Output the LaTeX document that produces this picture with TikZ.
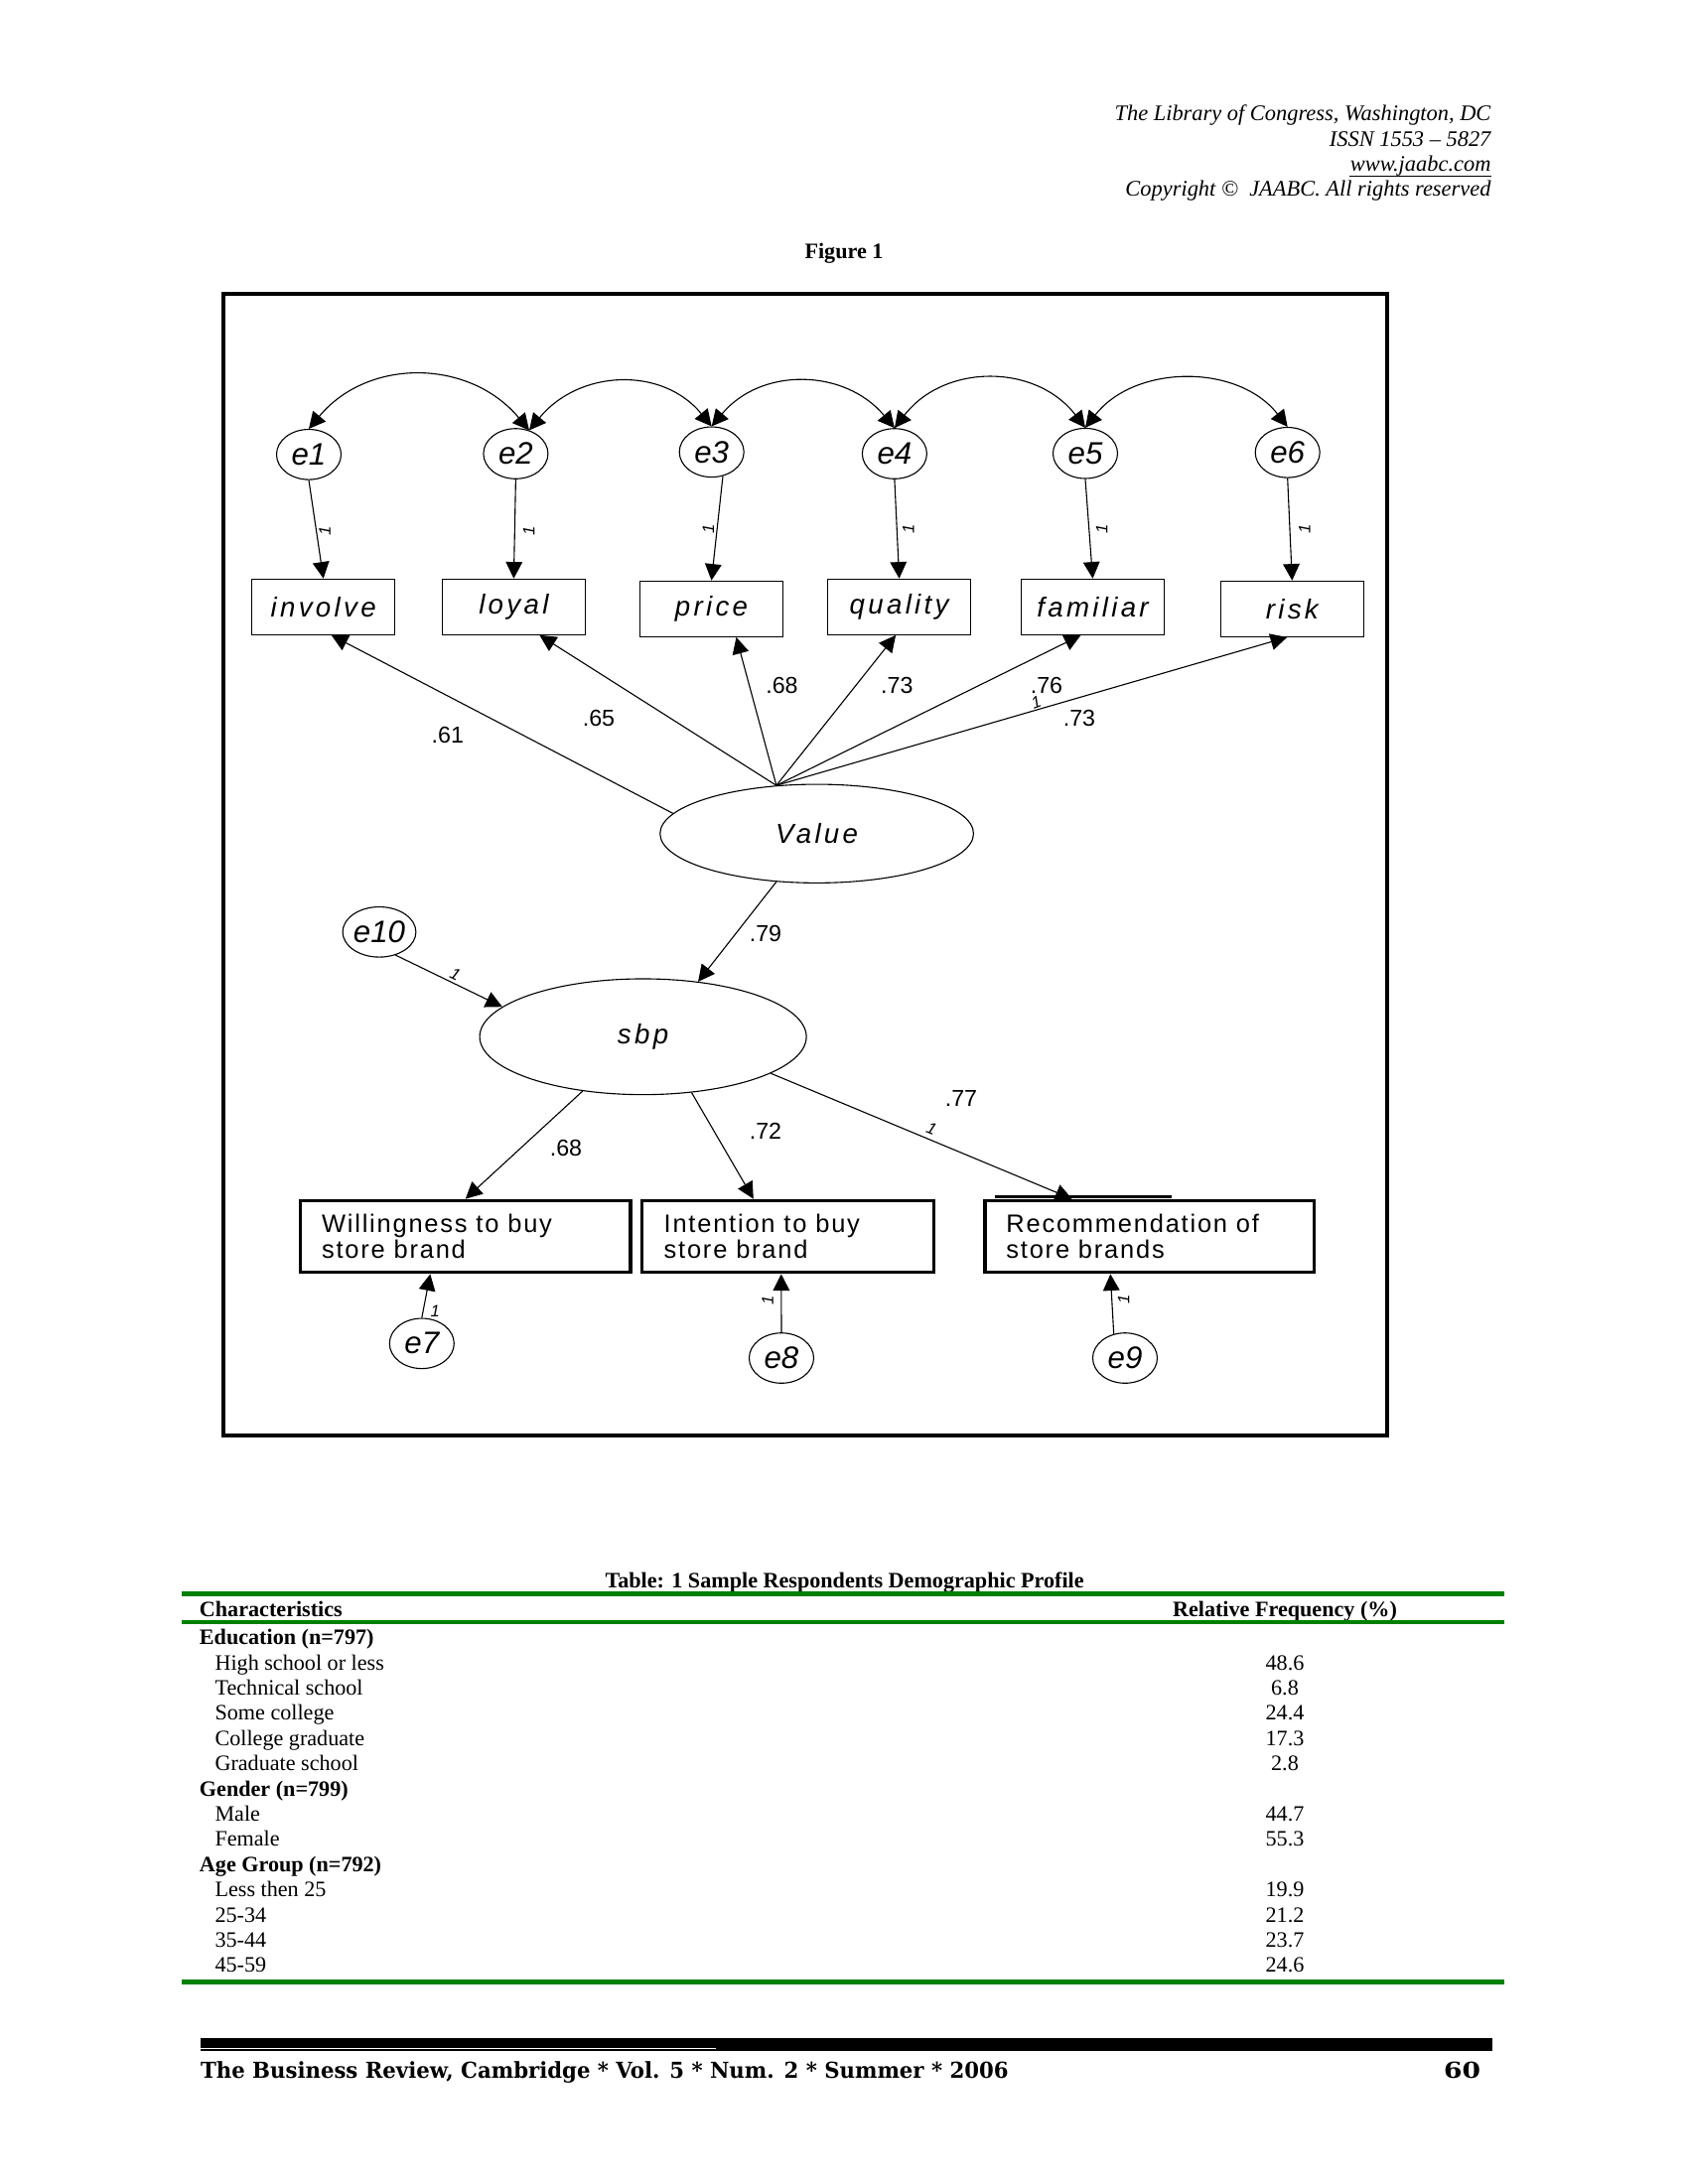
\documentclass[tikz,border=0pt]{standalone}
\usepackage{graphicx}
\usepackage{fontspec}
\setmainfont{Liberation Serif}
\setsansfont{Liberation Sans}
\newfontfamily\amosA[LetterSpace=12]{Liberation Sans}
\newfontfamily\amosB[LetterSpace=7]{Liberation Sans}
\newfontfamily\footfont{DejaVu Serif}
\usetikzlibrary{shapes.geometric,arrows.meta,calc}
\definecolor{tgreen}{RGB}{0,128,0}
\begin{document}
\begin{tikzpicture}[x=0.36bp,y=-0.36bp,
  lat/.style={ellipse,draw,line width=0.4bp,inner sep=0pt},
  err/.style={lat,minimum width=23.4bp,minimum height=18.2bp,font=\fontsize{11.3}{13}\selectfont\sffamily\itshape},
  obs/.style={rectangle,draw,line width=0.4bp,minimum width=51.84bp,minimum height=20.16bp,inner sep=0pt,font=\fontsize{10}{12}\selectfont\amosA\itshape},
  dv/.style={rectangle,draw,line width=1.2bp,minimum height=26.06bp,inner sep=0pt},
  dvt/.style={anchor=base west,inner sep=0pt,font=\fontsize{9.2}{10}\selectfont\amosB},
  arr/.style={line width=0.4bp,-{Triangle[length=6bp,width=6bp]}},
  cov/.style={line width=0.4bp,{Triangle[length=6bp,width=6bp]}-{Triangle[length=6bp,width=6bp]}},
  num/.style={inner sep=0pt,font=\fontsize{8.4}{10}\selectfont\sffamily},
  one/.style={inner sep=0pt,font=\fontsize{6}{7}\selectfont\sffamily\itshape},
  tb/.style={anchor=base west,inner sep=0pt,font=\fontsize{8}{9}\selectfont},
  tbb/.style={anchor=base west,inner sep=0pt,font=\fontsize{8}{9}\selectfont\bfseries},
  tv/.style={anchor=base,inner sep=0pt,font=\fontsize{8}{9}\selectfont},
  hdr/.style={anchor=base east,inner sep=0pt,font=\fontsize{8.1}{9}\selectfont\itshape}
]
\fill[white] (0,0) rectangle (1700,2200);
\useasboundingbox (0,0) rectangle (1700,2200);

% header
\node[hdr] (h1) at (1502,121) {The Library of Congress, Washington, DC};
\node[hdr] (h2) at (1502,147.5) {ISSN 1553 – 5827};
\node[hdr] (h3) at (1502,172.6) {www.jaabc.com};
\draw[line width=0.5bp] ($(h3.base west)+(0,5)$) -- ($(h3.base east)+(0,5)$);
\node[hdr] (h4) at (1502,197.5) {Copyright ©\ \ JAABC. All rights reserved};
\node[anchor=base,inner sep=0pt,font=\fontsize{8}{9}\selectfont\bfseries] (fig) at (850,260) {Figure 1};

% frame
\draw[line width=1.4bp] (224.6,296) rectangle (1397,1445.7);

% error terms (top)
\node[err] (e1) at (311,457.8) {e1};
\node[err] (e2) at (519.4,457) {e2};
\node[err] (e3) at (716.7,455.3) {e3};
\node[err] (e4) at (900.9,457) {e4};
\node[err] (e5) at (1093,456.7) {e5};
\node[err] (e6) at (1296.7,455.8) {e6};

% indicators
\node[obs] (involve) at (325.7,611.3) {involve};
\node[obs] (loyal) at (517.4,611.3) {loyal};
\node[obs] (price) at (716.5,613.3) {price};
\node[obs] (quality) at (905.6,611.3) {quality};
\node[obs] (familiar) at (1100.5,611.3) {familiar};
\node[obs] (risk) at (1301.3,613.3) {risk};

% latent
\node[lat,minimum width=113.65bp,minimum height=35.75bp,font=\fontsize{10}{12}\selectfont\amosA\itshape] (Value) at (822.6,839.7) {Value};
\node[lat,minimum width=118.44bp,minimum height=42bp,font=\fontsize{10}{12}\selectfont\amosA\itshape] (sbp) at (647.6,1044.3) {sbp};
\node[err] (e10) at (382,938.8) {e10};

% outcome boxes
\node[dv,minimum width=119.6bp] (W) at (468.8,1245.5) {};
\node[dv,minimum width=105.84bp] (I) at (793.8,1245.5) {};
\node[dv,minimum width=119.2bp] (R) at (1157.6,1245.5) {};
\node[dvt] (Wa) at ($(W.north west)+(22.5,33.5)$) {Willingness to buy};
\node[dvt] (Wb) at ($(W.north west)+(22.5,60.2)$) {store brand};
\node[dvt] (Ia) at ($(I.north west)+(23,33.5)$) {Intention to buy};
\node[dvt] (Ib) at ($(I.north west)+(23,60.2)$) {store brand};
\node[dvt] (Ra) at ($(R.north west)+(22.5,33.5)$) {Recommendation of};
\node[dvt] (Rb) at ($(R.north west)+(22.5,60.2)$) {store brands};
\draw[line width=1bp] ($(R.north west)+(12,-2.5)$) -- ($(R.north west)+(190,-2.5)$);

\node[err] (e7) at (424.8,1353.3) {e7};
\node[err] (e8) at (787,1368) {e8};
\node[err] (e9) at (1133,1368) {e9};

% covariances
\draw[cov] (e1.north) .. controls +(60,-72) and +(-60,-72) .. (e2.60);
\draw[cov] (e2.60) .. controls +(50,-61) and +(-50,-61) .. (e3.north);
\draw[cov] (e3.north) .. controls +(50,-60) and +(-50,-60) .. (e4.north);
\draw[cov] (e4.north) .. controls +(50,-65) and +(-50,-65) .. (e5.north);
\draw[cov] (e5.north) .. controls +(50,-64) and +(-50,-64) .. (e6.north);

% error -> indicator
\draw[arr] (e1.south) -- (involve.north);
\draw[arr] (e2.south) -- (loyal.north);
\draw[arr] (e3.-65) -- (price.north);
\draw[arr] (e4.south) -- (quality.north);
\draw[arr] (e5.south) -- (familiar.north);
\draw[arr] (e6.south) -- (risk.north);
\node[one,rotate=90] (o1) at (327.2,535) {1};
\node[one,rotate=90] (o2) at (532.6,535) {1};
\node[one,rotate=90] (o3) at (713.4,533.3) {1};
\node[one,rotate=90] (o4) at (914.9,533.3) {1};
\node[one,rotate=90] (o5) at (1109.6,533.3) {1};
\node[one,rotate=90] (o6) at (1313.8,533.3) {1};

% loadings
\draw[arr] (Value.172) -- ($(involve.south)+(8,0)$);
\draw[arr] (Value.130) -- ($(loyal.south)+(26,0)$);
\draw[arr] (Value.130) -- ($(price.south)+(25,0)$);
\draw[arr] (Value.130) -- ($(quality.south)+(-3.5,0)$);
\draw[arr] (Value.130) -- ($(familiar.south)+(-12,0)$);
\draw[arr] (Value.130) -- ($(risk.south)+(-5,0)$);
\node[num] (l61) at (450.8,740) {.61};
\node[num] (l65) at (603,723.3) {.65};
\node[num] (l68) at (787.5,690) {.68};
\node[num] (l73a) at (903.3,690) {.73};
\node[num] (l76) at (1054,690) {.76};
\node[one,rotate=20] (ov) at (1043.6,707.3) {1};
\node[num] (l73b) at (1087,723.3) {.73};

% structural
\draw[arr] (Value.230) -- (sbp.45);
\node[num] (l79) at (771,940) {.79};
\draw[arr] (e10.-55) -- (sbp.168.5);
\node[one,rotate=-26] (o10) at (458.6,981.7) {1};

\draw[arr] (sbp.-138) -- (W.north);
\draw[arr] (sbp.-49) -- ($(I.north)+(-35,0)$);
\draw[arr] (sbp.-16) -- ($(R.north)+(-78,0)$);
\node[num] (l68b) at (570,1156) {.68};
\node[num] (l72) at (771,1139.3) {.72};
\node[num] (l77) at (968,1106) {.77};
\node[one,rotate=-22] (o11) at (938.4,1136.7) {1};

\draw[arr] (e7.north) -- ($(W.south)+(-35.5,0)$);
\draw[arr] (e8.north) -- ($(I.south)+(-7,0)$);
\draw[arr] (e9.115) -- ($(R.south)+(-39.3,0)$);
\node[one] (o7) at (438.3,1320.7) {1};
\node[one,rotate=90] (o8) at (773.2,1310) {1};
\node[one,rotate=90] (o9) at (1131.7,1309.3) {1};

% table
\node[anchor=base,inner sep=0pt,font=\fontsize{8}{9}\selectfont\bfseries] (ttl) at (850.6,1599.3) {Table: 1 Sample Respondents Demographic Profile};
\draw[tgreen,line width=1.6bp] (183.4,1605.5) -- (1515,1605.5);
\node[tbb] (ch) at (200.4,1628.3) {Characteristics};
\node[anchor=base,inner sep=0pt,font=\fontsize{8}{9}\selectfont\bfseries] (rf) at (1294,1628.3) {Relative Frequency (\%)};
\draw[tgreen,line width=1.5bp] (183.4,1633.8) -- (1515,1633.8);

\node[tbb] (r0) at (200.4,1656.7) {Education (n=797)};
\node[tb] (r1) at (216,1682.1) {High school or less};
\node[tb] (r2) at (216,1707.5) {Technical school};
\node[tb] (r3) at (216,1732.9) {Some college};
\node[tb] (r4) at (216,1758.3) {College graduate};
\node[tb] (r5) at (216,1783.7) {Graduate school};
\node[tbb] (r6) at (200.4,1809.1) {Gender (n=799)};
\node[tb] (r7) at (216,1834.5) {Male};
\node[tb] (r8) at (216,1859.9) {Female};
\node[tbb] (r9) at (200.4,1885.3) {Age Group (n=792)};
\node[tb] (r10) at (216,1910.7) {Less then 25};
\node[tb] (r11) at (216,1936.1) {25-34};
\node[tb] (r12) at (216,1961.5) {35-44};
\node[tb] (r13) at (216,1986.9) {45-59};

\node[tv] (v1) at (1294,1682.1) {48.6};
\node[tv] (v2) at (1294,1707.5) {6.8};
\node[tv] (v3) at (1294,1732.9) {24.4};
\node[tv] (v4) at (1294,1758.3) {17.3};
\node[tv] (v5) at (1294,1783.7) {2.8};
\node[tv] (v7) at (1294,1834.5) {44.7};
\node[tv] (v8) at (1294,1859.9) {55.3};
\node[tv] (v10) at (1294,1910.7) {19.9};
\node[tv] (v11) at (1294,1936.1) {21.2};
\node[tv] (v12) at (1294,1961.5) {23.7};
\node[tv] (v13) at (1294,1986.9) {24.6};
\draw[tgreen,line width=2bp] (183.4,1996.5) -- (1515,1996.5);

% footer
\fill (201.5,2053.3) rectangle (1503.3,2062.7);
\fill (201.5,2063.7) rectangle (1503.3,2066.3);
\fill (720.7,2062.7) rectangle (1503.3,2063.7);
\node[anchor=base west,inner sep=0pt,font=\fontsize{8}{9}\selectfont\footfont\bfseries] (ft) at (201.5,2093) {\resizebox{292.9bp}{\height}{The Business Review, Cambridge * Vol. 5 * Num. 2 * Summer * 2006}};
\node[anchor=base east,inner sep=0pt,font=\fontsize{8}{9}\selectfont\footfont\bfseries] (pg) at (1491.7,2093) {\resizebox{13.3bp}{\height}{60}};
\end{tikzpicture}
\end{document}
